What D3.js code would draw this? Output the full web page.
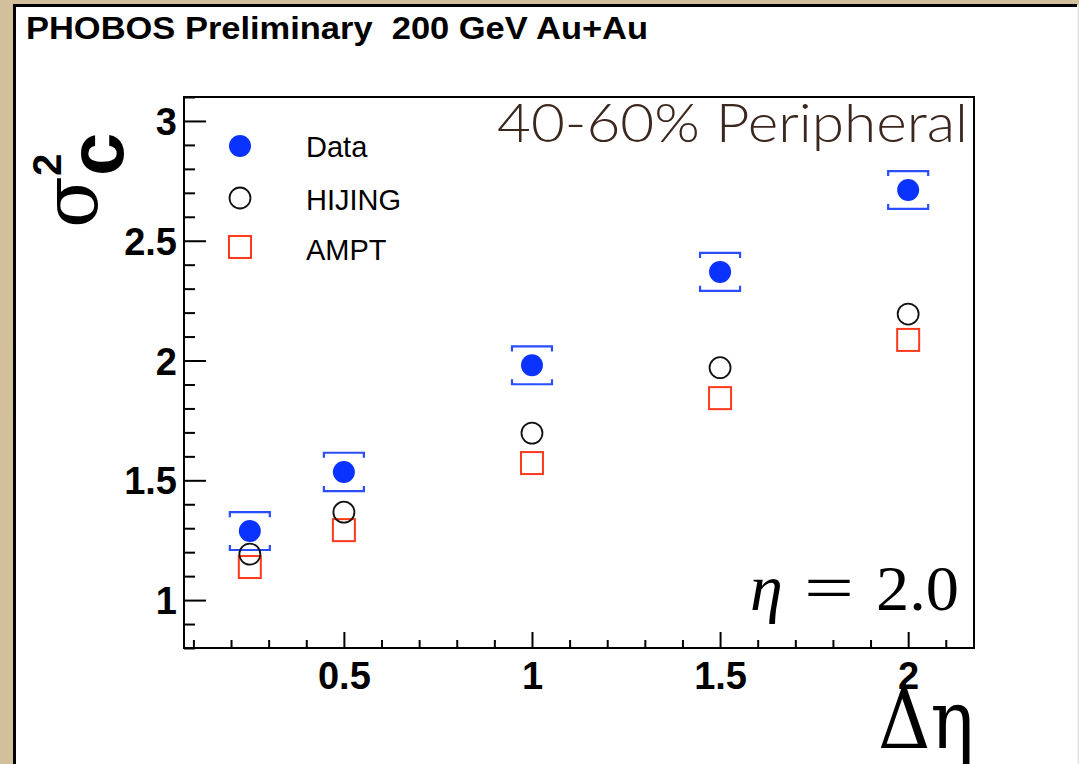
<!DOCTYPE html>
<html>
<head>
<meta charset="utf-8">
<script src="https://cdn.jsdelivr.net/npm/d3@7"></script>
<style>
  html, body { margin: 0; padding: 0; }
  body { width: 1079px; height: 764px; overflow: hidden; background: #dac8a7; }
</style>
</head>
<body>
<div id="chart"></div>
<script>
// data
const deltaEta = [0.25, 0.5, 1, 1.5, 2];
const dataVals = [1.288, 1.535, 1.98, 2.37, 2.712];
const dataSyst = [0.079, 0.08, 0.079, 0.079, 0.079];
const hijingVals = [1.192, 1.367, 1.697, 1.97, 2.194];
const amptVals = [1.138, 1.292, 1.572, 1.843, 2.086];
const xTickLabels = [0.5, 1, 1.5, 2];
const yTickLabels = [1, 1.5, 2, 2.5, 3];

// constants
const w = 1079;
const h = 764;
const frame = { left: 184, top: 97, right: 974, bottom: 648 };
const blue = "#0b33ff";
const red = "#ff3a1c";

const svg = d3.select("#chart")
  .append("svg")
  .attr("width", w)
  .attr("height", h);

// parchment background
const defs = svg.append("defs");
const grad = defs.append("radialGradient").attr("id", "parch");
grad.append("stop").attr("offset", "0%").attr("stop-color", "#e3d3b4");
grad.append("stop").attr("offset", "100%").attr("stop-color", "#d3bf9b");
svg.append("rect").attr("width", w).attr("height", h).attr("fill", "url(#parch)");

// white panel, border only on left and top
svg.append("rect")
  .attr("x", 14.5).attr("y", 5.5)
  .attr("width", 1064).attr("height", 770)
  .attr("fill", "#fff");
svg.append("path")
  .attr("d", "M14.5,764V5.5H1077")
  .attr("fill", "none")
  .attr("stroke", "#000")
  .attr("stroke-width", 3);
svg.append("line")
  .attr("x1", 1078).attr("x2", 1078).attr("y1", 7).attr("y2", 764)
  .attr("stroke", "#e6e6e6").attr("stroke-width", 1);

// title
svg.append("text")
  .attr("x", 26).attr("y", 39)
  .attr("font-family", "Liberation Sans, Arial, sans-serif")
  .attr("font-weight", "bold")
  .attr("font-size", 32)
  .attr("textLength", 622)
  .attr("lengthAdjust", "spacingAndGlyphs")
  .attr("xml:space", "preserve")
  .text("PHOBOS Preliminary  200 GeV Au+Au");

// scales
const xScale = d3.scaleLinear().domain([0.075, 2.175]).range([frame.left, frame.right]);
const yScale = d3.scaleLinear().domain([0.8, 3.1]).range([frame.bottom, frame.top]);

// frame
svg.append("rect")
  .attr("x", frame.left).attr("y", frame.top)
  .attr("width", frame.right - frame.left)
  .attr("height", frame.bottom - frame.top)
  .attr("fill", "none")
  .attr("stroke", "#000")
  .attr("stroke-width", 2);

// x axis
const xAxis = d3.axisBottom(xScale)
  .tickValues(xTickLabels)
  .tickSize(-16)
  .tickFormat(d3.format(""));
const gx = svg.append("g")
  .attr("transform", "translate(0," + frame.bottom + ")")
  .call(xAxis);
gx.select(".domain").remove();
gx.selectAll(".tick line").attr("stroke", "#000").attr("stroke-width", 2);
gx.selectAll(".tick text")
  .attr("y", 41)
  .attr("dy", 0)
  .attr("font-family", "Liberation Sans, Arial, sans-serif")
  .attr("font-weight", "bold")
  .attr("font-size", 38)
  .attr("fill", "#000");

const xMinor = d3.range(1, 22).map((i) => i / 10).filter((v) => Math.round(v * 10) % 5 !== 0);
const gxm = svg.append("g")
  .attr("transform", "translate(0," + frame.bottom + ")")
  .call(d3.axisBottom(xScale).tickValues(xMinor).tickSize(-8).tickFormat(""));
gxm.select(".domain").remove();
gxm.selectAll(".tick line").attr("stroke", "#000").attr("stroke-width", 2);

// y axis
const yAxis = d3.axisLeft(yScale)
  .tickValues(yTickLabels)
  .tickSize(-22)
  .tickFormat(d3.format(""));
const gy = svg.append("g")
  .attr("transform", "translate(" + frame.left + ",0)")
  .call(yAxis);
gy.select(".domain").remove();
gy.selectAll(".tick line").attr("stroke", "#000").attr("stroke-width", 2);
gy.selectAll(".tick text")
  .attr("x", -7)
  .attr("dy", "0.36em")
  .attr("font-family", "Liberation Sans, Arial, sans-serif")
  .attr("font-weight", "bold")
  .attr("font-size", 38)
  .attr("fill", "#000");

const yMinor = d3.range(8, 32).map((i) => i / 10).filter((v) => Math.round(v * 10) % 5 !== 0);
const gym = svg.append("g")
  .attr("transform", "translate(" + frame.left + ",0)")
  .call(d3.axisLeft(yScale).tickValues(yMinor).tickSize(-11).tickFormat(""));
gym.select(".domain").remove();
gym.selectAll(".tick line").attr("stroke", "#000").attr("stroke-width", 2);

// y label: sigma^2_c rotated
const ylab = svg.append("g")
  .attr("transform", "translate(97,228) rotate(-90)")
  .attr("fill", "#000");
ylab.append("text").attr("x", 0).attr("y", 0)
  .attr("font-family", "DejaVu Serif, serif").attr("font-size", 76).text("σ");
ylab.append("text").attr("x", 52).attr("y", 26)
  .attr("font-family", "Liberation Sans, Arial, sans-serif").attr("font-weight", "bold")
  .attr("font-size", 78).text("c");
ylab.append("text").attr("x", 52).attr("y", -36)
  .attr("font-family", "Liberation Sans, Arial, sans-serif").attr("font-weight", "bold")
  .attr("font-size", 40).text("2");

// systematic brackets on data
const bw = 20;
const bt = 5;
const brackets = svg.append("g")
  .attr("fill", "none")
  .attr("stroke", "#2a4dff")
  .attr("stroke-width", 2.2);
brackets.selectAll("path.top")
  .data(deltaEta)
  .enter()
  .append("path")
  .attr("d", (d, i) => {
    const x = xScale(d);
    const y = yScale(dataVals[i] + dataSyst[i]);
    return `M${x - bw},${y + bt}V${y}H${x + bw}V${y + bt}`;
  });
brackets.selectAll("path.bot")
  .data(deltaEta)
  .enter()
  .append("path")
  .attr("d", (d, i) => {
    const x = xScale(d);
    const y = yScale(dataVals[i] - dataSyst[i]);
    return `M${x - bw},${y - bt}V${y}H${x + bw}V${y - bt}`;
  });

// AMPT squares
svg.append("g")
  .selectAll("rect")
  .data(deltaEta)
  .enter()
  .append("rect")
  .attr("x", (d) => xScale(d) - 11)
  .attr("y", (d, i) => yScale(amptVals[i]) - 11)
  .attr("width", 22)
  .attr("height", 22)
  .attr("fill", "none")
  .attr("stroke", red)
  .attr("stroke-width", 2);

// HIJING circles
svg.append("g")
  .selectAll("circle")
  .data(deltaEta)
  .enter()
  .append("circle")
  .attr("cx", (d) => xScale(d))
  .attr("cy", (d, i) => yScale(hijingVals[i]))
  .attr("r", 10.5)
  .attr("fill", "none")
  .attr("stroke", "#111")
  .attr("stroke-width", 1.8);

// data points
svg.append("g")
  .selectAll("circle")
  .data(deltaEta)
  .enter()
  .append("circle")
  .attr("cx", (d) => xScale(d))
  .attr("cy", (d, i) => yScale(dataVals[i]))
  .attr("r", 11)
  .attr("fill", blue);

// legend
const legend = svg.append("g")
  .attr("font-family", "Liberation Sans, Arial, sans-serif")
  .attr("font-size", 29)
  .attr("fill", "#000");
legend.append("circle").attr("cx", 240).attr("cy", 146).attr("r", 11).attr("fill", blue);
legend.append("text").attr("x", 306).attr("y", 157).text("Data");
legend.append("circle").attr("cx", 240).attr("cy", 198).attr("r", 10.5)
  .attr("fill", "none").attr("stroke", "#111").attr("stroke-width", 1.8);
legend.append("text").attr("x", 306).attr("y", 210).text("HIJING");
legend.append("rect").attr("x", 229).attr("y", 236).attr("width", 22).attr("height", 22)
  .attr("fill", "none").attr("stroke", red).attr("stroke-width", 2);
legend.append("text").attr("x", 306).attr("y", 260).text("AMPT");

// centrality label
svg.append("text")
  .attr("x", 497).attr("y", 142)
  .attr("font-family", "Lato, sans-serif")
  .attr("font-weight", 300)
  .attr("font-size", 54)
  .attr("fill", "#3b271d")
  .attr("textLength", 471)
  .attr("lengthAdjust", "spacingAndGlyphs")
  .text("40-60% Peripheral");

// eta label
const etaFont = "Liberation Serif, serif";
svg.append("text")
  .attr("x", 750).attr("y", 610)
  .attr("font-family", etaFont).attr("font-style", "italic")
  .attr("font-size", 66).attr("fill", "#000")
  .text("η");
svg.append("text")
  .attr("x", 804).attr("y", 610)
  .attr("font-family", etaFont)
  .attr("font-size", 66).attr("fill", "#000")
  .attr("textLength", 50).attr("lengthAdjust", "spacingAndGlyphs")
  .text("=");
svg.append("text")
  .attr("x", 876).attr("y", 610)
  .attr("font-family", etaFont)
  .attr("font-size", 64).attr("fill", "#000")
  .attr("textLength", 83).attr("lengthAdjust", "spacingAndGlyphs")
  .text("2.0");

// x label
svg.append("text")
  .attr("x", 878).attr("y", 748)
  .attr("font-family", "DejaVu Serif, serif")
  .attr("font-size", 80)
  .attr("fill", "#000")
  .attr("textLength", 96)
  .attr("lengthAdjust", "spacingAndGlyphs")
  .text("Δη");
</script>
</body>
</html>
